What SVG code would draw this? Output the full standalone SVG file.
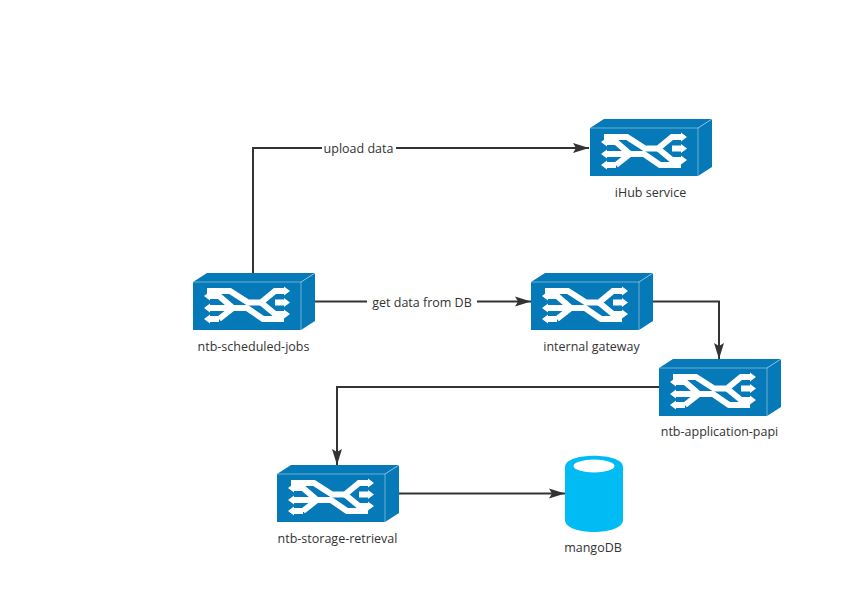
<svg xmlns="http://www.w3.org/2000/svg" width="841" height="593" viewBox="0 0 841 593">
<style>
text{font-family:"Open Sans","Noto Sans","Liberation Sans",sans-serif;font-size:12.5px;fill:#333;text-anchor:middle}
.c{fill:none;stroke:#333;stroke-width:2}
.w{fill:none;stroke:#fff;stroke-width:6}
.a{fill:#fff}
.lb{fill:#fff}
</style>
<defs>
<marker id="arr" markerUnits="userSpaceOnUse" markerWidth="16" markerHeight="12" refX="16" refY="6" orient="auto"><path d="M0 1 L16 6 L0 11 L3 6Z" fill="#333"/></marker>
<g id="sw">
<path d="M0 0H108V48H0Z" fill="#0679b8"/>
<path d="M0 0L14 -9H122L108 0Z" fill="#0679b8"/>
<path d="M108 0L122 -9V39L108 48Z" fill="#0679b8"/>
<path d="M0 0H108V48M108 0L122 -9" fill="none" stroke="#fff" stroke-width=".6" opacity=".7"/>
<path class="w" d="M14 9H37L55 20.500H68L82 9H91"/>
<path class="w" d="M82 20.500H91M68 20.500L82 32H91"/>
<path class="w" d="M91 37H70L54 26H40L26 14H17"/>
<path class="w" d="M40 26H26L26 26H17M26 37H17M40 26L26 37"/>
<path class="a" d="M91 4.500L97 9L91 13.500ZM91 16L97 20.500L91 25ZM91 27.500L97 32L91 36.500ZM17 9.500L11 14L17 18.500ZM17 21.500L11 26L17 30.500ZM17 32.500L11 37L17 41.500Z"/>
</g>
</defs>
<g id="connectors">
<path class="c" marker-end="url(#arr)" d="M253 274V148H589"/>
<path class="c" marker-end="url(#arr)" d="M315 301.500H531"/>
<path class="c" marker-end="url(#arr)" d="M653 301.500H719V359"/>
<path class="c" marker-end="url(#arr)" d="M659 387H337V465"/>
<path class="c" marker-end="url(#arr)" d="M399 493.500H565"/>
</g>
<g id="label-upload"><rect class="lb" x="322" y="141" width="74" height="15"/><text x="358.500" y="153">upload data</text></g>
<g id="label-get"><rect class="lb" x="367" y="294" width="110" height="15"/><text x="422" y="307">get data from DB</text></g>
<g id="ihub"><use href="#sw" x="590" y="128"/><text x="650.500" y="197">iHub service</text></g>
<g id="ntb-scheduled-jobs"><use href="#sw" x="193" y="282"/><text x="253.500" y="351">ntb-scheduled-jobs</text></g>
<g id="internal-gateway"><use href="#sw" x="531" y="282"/><text x="591.500" y="351">internal gateway</text></g>
<g id="ntb-application-papi"><use href="#sw" x="659" y="368"/><text x="719.500" y="436">ntb-application-papi</text></g>
<g id="ntb-storage-retrieval"><use href="#sw" x="277" y="474"/><text x="337.500" y="543">ntb-storage-retrieval</text></g>
<g id="mangodb">
<path d="M565 467C565 452 623 452 623 467V520C623 536 565 536 565 520Z" fill="#00bbf4"/>
<ellipse cx="594" cy="466" rx="20.500" ry="6.500" fill="#fff"/>
<text x="593" y="552">mangoDB</text></g>
</svg>
